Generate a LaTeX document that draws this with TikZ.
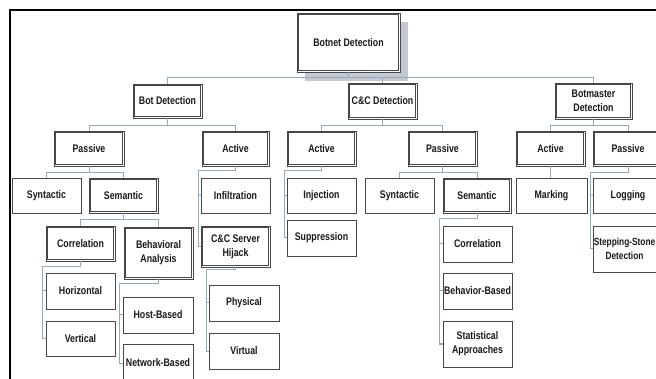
\documentclass[tikz,border=0pt]{standalone}
\usepackage{fontspec}
\setmainfont[FakeStretch=0.8]{Liberation Sans}
\definecolor{conncol}{HTML}{94A9BC}
\definecolor{shadowcol}{HTML}{C6C9D2}
\definecolor{boxcol}{HTML}{474747}
\newcommand\bxn[7]{\node[#2, minimum width={#5-#3}, minimum height={#6-#4}] (#1) at ({(#3+#5)/2},{(#4+#6)/2}) {#7};}
\newcommand\dbxn[6]{\bxn{#1}{bx, line width=0.9pt}{#2}{#3}{#4}{#5}{#6}
  \draw[innerline] ([shift={(1.8,1.8)}]#1.north west) rectangle ([shift={(-1.8,-1.8)}]#1.south east);}
\begin{document}
\begin{tikzpicture}[x=1pt,y=-1pt,
 bx/.style={draw=boxcol, line width=0.8pt, fill=white, inner sep=0pt, outer sep=0pt, align=center, font=\fontsize{11}{14}\selectfont\bfseries, text=black!90},
 innerline/.style={draw=boxcol, line width=0.7pt},
 conn/.style={draw=conncol, line width=1pt}]
\useasboundingbox (0,0) rectangle (656,379);
\clip (0,0) rectangle (656,379);
\fill[white] (0,0) rectangle (656,379);
\draw[line width=1.6pt] (10,381) -- (10,10) -- (658,10);
\fill[shadowcol] (305,22) rectangle (408,81);
% level 0-1
\dbxn{top}{297}{13}{400}{72}{Botnet Detection}
\dbxn{bot}{133}{84}{202}{118}{Bot Detection}
\dbxn{cc}{348}{83}{417}{119}{C\&C Detection}
\dbxn{bm}{555}{83}{632}{119}{Botmaster\\Detection}
% level 2
\dbxn{bp}{54}{131}{124}{166}{Passive}
\dbxn{ba}{202}{131}{269}{166}{Active}
\dbxn{ca}{287}{131}{356}{166}{Active}
\dbxn{cp}{408}{131}{477}{166}{Passive}
\dbxn{ma}{516}{131}{585}{166}{Active}
\dbxn{mp}{593}{131}{663}{166}{Passive}
% level 3
\bxn{bsy}{bx}{12}{178}{81}{213}{Syntactic}
\dbxn{bse}{89}{178}{158}{213}{Semantic}
\bxn{inf}{bx}{201}{178}{270}{213}{Infiltration}
\bxn{inj}{bx}{287}{178}{356}{213}{Injection}
\bxn{csy}{bx}{365}{178}{434}{213}{Syntactic}
\dbxn{cse}{443}{178}{511}{213}{Semantic}
\bxn{mk}{bx}{516}{178}{587}{213}{Marking}
\bxn{lg}{bx}{593}{178}{663}{213}{Logging}
% level 4
\dbxn{bco}{46}{226}{115}{261}{Correlation}
\dbxn{bba}{124}{227}{193}{279}{Behavioral\\Analysis}
\dbxn{hij}{201}{226}{270}{267}{C\&C Server\\Hijack}
\bxn{sup}{bx}{287}{220}{356}{256}{Suppression}
\bxn{cco}{bx}{443}{226}{512}{262}{Correlation}
\bxn{ss}{bx}{593}{226}{663}{272}{}
\node[align=center, inner sep=0pt, font=\fontsize{10.4}{14}\selectfont\bfseries, text=black!90] (sst) at (624.5,249) {Stepping-Stone\\Detection};
% level 5
\bxn{hor}{bx}{46}{273}{115}{309}{Horizontal}
\bxn{ver}{bx}{46}{321}{115}{356}{Vertical}
\bxn{host}{bx}{123}{297}{193}{333}{Host-Based}
\bxn{net}{bx}{123}{344}{193}{382}{Network-Based}
\bxn{phy}{bx}{209}{285}{279}{321}{Physical}
\bxn{vir}{bx}{209}{333}{279}{369}{Virtual}
\bxn{bb}{bx}{443}{273}{512}{309}{Behavior-Based}
\bxn{sta}{bx}{443}{321}{512}{367}{Statistical\\Approaches}
% connectors: bars
\draw[conn] (top.south) -- ++(0,6) coordinate (t1);
\draw[conn] (t1) -| (bot.north);
\draw[conn] (t1) -| (cc.north);
\draw[conn] (t1) -| (bm.north);
\draw[conn] (bot.south) -- ++(0,8) coordinate (b1);
\draw[conn] (b1) -| (bp.north);
\draw[conn] (b1) -| (ba.north);
\draw[conn] (cc.south) -- ++(0,7) coordinate (c1);
\draw[conn] (c1) -| (ca.north);
\draw[conn] (c1) -| (cp.north);
\draw[conn] (bm.south) -- ++(0,7) coordinate (m1);
\draw[conn] (m1) -| (ma.north);
\draw[conn] (m1) -| (mp.north);
\draw[conn] (bp.south) -- ++(0,7) coordinate (p1);
\draw[conn] (p1) -| (bsy.north);
\draw[conn] (p1) -| (bse.north);
\draw[conn] (cp.south) -- ++(0,7) coordinate (p2);
\draw[conn] (p2) -| (csy.north);
\draw[conn] (p2) -| (cse.north);
\draw[conn] (bse.south) -- ++(0,7) coordinate (s1);
\draw[conn] (s1) -| (bco.north);
\draw[conn] (s1) -| (bba.north);
\draw[conn] (ma.south) -- (ma.south |- mk.north);
% connectors: rails
\draw[conn] (ba.south) -- ++(0,5) -| ([xshift=-3pt]hij.west) -- (hij.west);
\draw[conn] ([xshift=-3pt]inf.west) -- (inf.west);
\draw[conn] (ca.south) -- ++(0,5) -| ([xshift=-3pt]sup.west) -- (sup.west);
\draw[conn] ([xshift=-3pt]inj.west) -- (inj.west);
\draw[conn] (mp.south) -- ++(0,7) -| ([xshift=-3pt]ss.west) -- (ss.west);
\draw[conn] ([xshift=-3pt]lg.west) -- (lg.west);
\draw[conn] (bco.south) -- ++(0,6) -| ([xshift=-4pt]ver.west) -- (ver.west);
\draw[conn] ([xshift=-4pt]hor.west) -- (hor.west);
\draw[conn] (bba.south) -- ++(0,5) -| ([xshift=-4pt]net.west) -- (net.west);
\draw[conn] ([xshift=-4pt]host.west) -- (host.west);
\draw[conn] (hij.south) -- ++(0,3) -| ([xshift=-3pt]vir.west) -- (vir.west);
\draw[conn] ([xshift=-3pt]phy.west) -- (phy.west);
\draw[conn] (cse.south) -- ++(0,6) -| ([xshift=-4pt]sta.west) -- (sta.west);
\draw[conn] ([xshift=-4pt]cco.west) -- (cco.west);
\draw[conn] ([xshift=-4pt]bb.west) -- (bb.west);
\end{tikzpicture}
\end{document}
